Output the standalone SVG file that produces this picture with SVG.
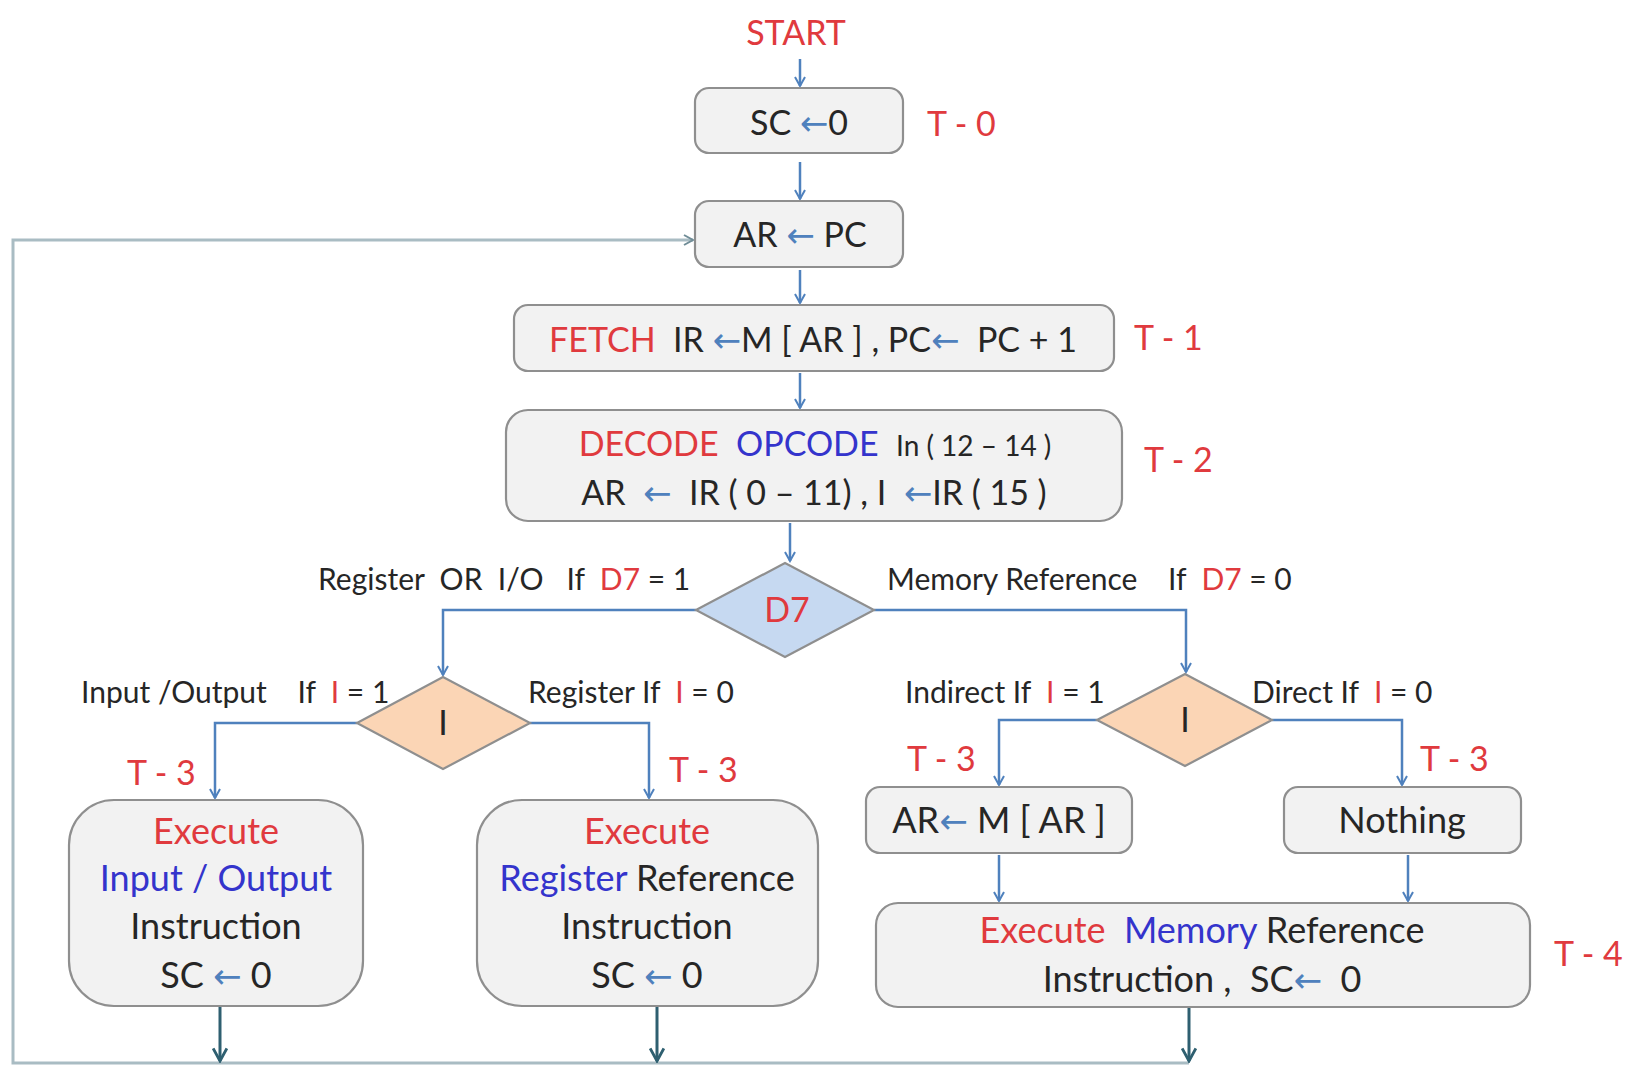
<svg xmlns="http://www.w3.org/2000/svg" width="1635" height="1073" viewBox="0 0 1635 1073" xml:space="preserve">
<defs>
<style>
text{font-family:Lato,"Open Sans","Liberation Sans",sans-serif;fill:#262626;white-space:pre}
.m{font-size:34px;text-anchor:middle}
.big{font-size:36px}
.l{font-size:30px}
.t{font-size:34px;fill:#e03a3e}
.r{fill:#e03a3e}
.b{fill:#3434cc}
.a{fill:#4f81bd;font-family:"DejaVu Sans",sans-serif;font-size:34px}
.box{fill:#f2f2f2;stroke:#8f8f8f;stroke-width:2.2}
.c{fill:none;stroke:#4f81bd;stroke-width:2.5}
.d{fill:none;stroke:#2e5f70;stroke-width:3}
.loop{fill:none;stroke:#a9bcc3;stroke-width:3}
</style>
<marker id="ah" viewBox="0 0 12 12" refX="10" refY="6" markerWidth="12" markerHeight="12" markerUnits="userSpaceOnUse" orient="auto">
<path d="M1,1 L10,6 L1,11" fill="none" stroke="#4f81bd" stroke-width="2"/>
</marker>
<marker id="ahd" viewBox="0 0 14 14" refX="12" refY="7" markerWidth="16" markerHeight="16" markerUnits="userSpaceOnUse" orient="auto">
<path d="M1,1 L12,7 L1,13" fill="none" stroke="#2e5f70" stroke-width="2.5"/>
</marker>
<marker id="ahl" viewBox="0 0 12 12" refX="10" refY="6" markerWidth="12" markerHeight="12" markerUnits="userSpaceOnUse" orient="auto">
<path d="M1,1 L10,6 L1,11" fill="none" stroke="#6f8c96" stroke-width="2"/>
</marker>
</defs>
<rect width="1635" height="1073" fill="#ffffff"/>
<g id="connectors">
<line class="c" x1="800" y1="59" x2="800" y2="86" marker-end="url(#ah)"/>
<line class="c" x1="800" y1="162" x2="800" y2="199" marker-end="url(#ah)"/>
<line class="c" x1="800" y1="270" x2="800" y2="303" marker-end="url(#ah)"/>
<line class="c" x1="800" y1="373" x2="800" y2="408" marker-end="url(#ah)"/>
<line class="c" x1="790" y1="523" x2="790" y2="561" marker-end="url(#ah)"/>
<polyline class="c" points="696,610 443,610 443,675" marker-end="url(#ah)"/>
<polyline class="c" points="874,610 1186,610 1186,672" marker-end="url(#ah)"/>
<polyline class="c" points="357,723 215,723 215,798" marker-end="url(#ah)"/>
<polyline class="c" points="530,723 649,723 649,798" marker-end="url(#ah)"/>
<polyline class="c" points="1097,720 999,720 999,785" marker-end="url(#ah)"/>
<polyline class="c" points="1272,720 1402,720 1402,785" marker-end="url(#ah)"/>
<line class="c" x1="999" y1="855" x2="999" y2="901" marker-end="url(#ah)"/>
<line class="c" x1="1408" y1="855" x2="1408" y2="901" marker-end="url(#ah)"/>
<polyline class="loop" points="1189,1063 13,1063 13,240 693,240" marker-end="url(#ahl)"/>
<line class="d" x1="220" y1="1007" x2="220" y2="1061" marker-end="url(#ahd)"/>
<line class="d" x1="657" y1="1007" x2="657" y2="1061" marker-end="url(#ahd)"/>
<line class="d" x1="1189" y1="1008" x2="1189" y2="1061" marker-end="url(#ahd)"/>
</g>
<g id="start"><text class="m r" x="796" y="45">START</text></g>
<g id="sc0">
<rect class="box" x="695" y="88" width="208" height="65" rx="14"/>
<text class="m" x="799" y="135">SC <tspan class="a">←</tspan>0</text>
</g>
<g id="t0"><text class="t" x="927" y="136">T - 0</text></g>
<g id="arpc">
<rect class="box" x="695" y="201" width="208" height="66" rx="14"/>
<text class="m" x="800" y="247">AR <tspan class="a">←</tspan> PC</text>
</g>
<g id="fetch">
<rect class="box" x="514" y="305" width="600" height="66" rx="14"/>
<text class="m" x="813" y="352" font-size="36"><tspan class="r">FETCH</tspan>  IR <tspan class="a">←</tspan>M [ AR ] , PC<tspan class="a">←</tspan>  PC + 1</text>
</g>
<g id="t1"><text class="t" x="1134" y="350">T - 1</text></g>
<g id="decode">
<rect class="box" x="506" y="410" width="616" height="111" rx="22"/>
<text class="m" x="815" y="456"><tspan class="r">DECODE</tspan>  <tspan class="b">OPCODE</tspan>  <tspan font-size="28">In ( 12 – 14 )</tspan></text>
<text class="m" x="814" y="505" font-size="36">AR  <tspan class="a">←</tspan>  IR ( 0 – 11) , I  <tspan class="a">←</tspan>IR ( 15 )</text>
</g>
<g id="t2"><text class="t" x="1144" y="472">T - 2</text></g>
<g id="d7">
<polygon points="696,610 785,563 874,610 785,657" fill="#c6d9f1" stroke="#8f8f8f" stroke-width="2.2"/>
<text class="m r" x="787" y="622">D7</text>
</g>
<g id="lbl-d7-left"><text class="l" x="318" y="590">Register  OR  I/O   If  <tspan class="r">D7</tspan> = 1</text></g>
<g id="lbl-d7-right"><text class="l" x="887" y="590">Memory Reference    If  <tspan class="r">D7</tspan> = 0</text></g>
<g id="i-left">
<polygon points="357,723 443,677 530,723 443,769" fill="#fbd5b5" stroke="#8f8f8f" stroke-width="2.2"/>
<text class="m" x="443" y="735">I</text>
</g>
<g id="lbl-io"><text class="l" x="81" y="703">Input /Output    If  <tspan class="r">I</tspan> = 1</text></g>
<g id="lbl-reg"><text class="l" x="528" y="703">Register If  <tspan class="r">I</tspan> = 0</text></g>
<g id="i-right">
<polygon points="1097,720 1185,674 1272,720 1185,766" fill="#fbd5b5" stroke="#8f8f8f" stroke-width="2.2"/>
<text class="m" x="1185" y="732">I</text>
</g>
<g id="lbl-ind"><text class="l" x="905" y="703">Indirect If  <tspan class="r">I</tspan> = 1</text></g>
<g id="lbl-dir"><text class="l" x="1252" y="703">Direct If  <tspan class="r">I</tspan> = 0</text></g>
<g id="t3a"><text class="t" x="127" y="785">T - 3</text></g>
<g id="t3b"><text class="t" x="669" y="782">T - 3</text></g>
<g id="t3c"><text class="t" x="907" y="771">T - 3</text></g>
<g id="t3d"><text class="t" x="1420" y="771">T - 3</text></g>
<g id="exec-io">
<rect class="box" x="69" y="800" width="294" height="206" rx="45"/>
<text class="m big r" x="216" y="844">Execute</text>
<text class="m big b" x="216" y="891">Input / Output</text>
<text class="m big" x="216" y="939">Instruction</text>
<text class="m big" x="216" y="988">SC <tspan class="a">←</tspan> 0</text>
</g>
<g id="exec-reg">
<rect class="box" x="477" y="800" width="341" height="206" rx="45"/>
<text class="m big r" x="647" y="844">Execute</text>
<text class="m big" x="647" y="891"><tspan class="b">Register</tspan> Reference</text>
<text class="m big" x="647" y="939">Instruction</text>
<text class="m big" x="647" y="988">SC <tspan class="a">←</tspan> 0</text>
</g>
<g id="ar-mar">
<rect class="box" x="866" y="787" width="266" height="66" rx="14"/>
<text class="m big" x="999" y="833">AR<tspan class="a">←</tspan> M [ AR ]</text>
</g>
<g id="nothing">
<rect class="box" x="1284" y="787" width="237" height="66" rx="14"/>
<text class="m big" x="1402" y="833">Nothing</text>
</g>
<g id="exec-mem">
<rect class="box" x="876" y="903" width="654" height="104" rx="22"/>
<text class="m big" x="1202" y="943"><tspan class="r">Execute</tspan>  <tspan class="b">Memory</tspan> Reference</text>
<text class="m big" x="1202" y="992">Instruction ,  SC<tspan class="a">←</tspan>  0</text>
</g>
<g id="t4"><text class="t" x="1554" y="966">T - 4</text></g>
</svg>
